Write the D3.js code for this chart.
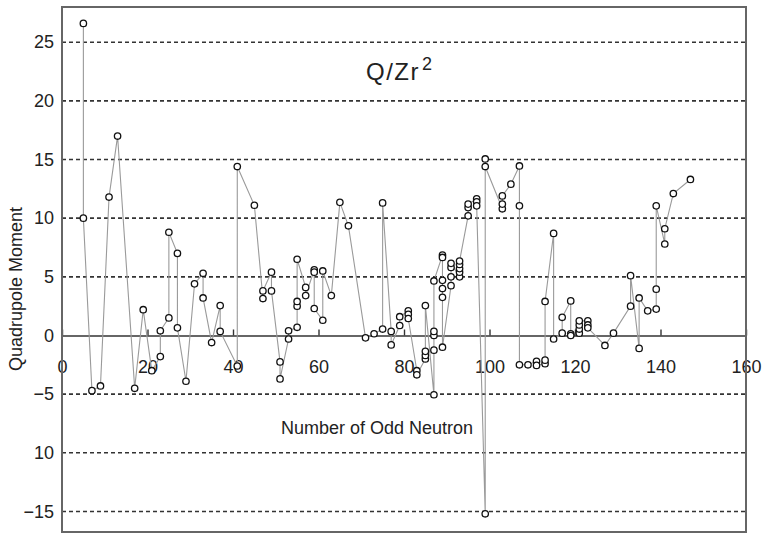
<!DOCTYPE html>
<html>
<head>
<meta charset="utf-8">
<script src="https://cdn.jsdelivr.net/npm/d3@7"></script>
<style>
  body { margin: 0; background: #fff; }
  svg text { font-family: "Liberation Sans", Arial, sans-serif; fill: #222; }
</style>
</head>
<body>
<div id="chart"></div>
<script>
// odd neutron number, in the order the points are joined
var neutrons = [
  5, 5, 7, 9, 11, 13, 17, 19, 21, 23, 23, 25, 25, 27, 27, 29, 31, 33, 33, 35, 37, 37,
  41, 41, 45, 47, 47, 49, 49, 51, 51, 53, 53, 55, 55, 55, 55, 57, 57, 59, 59, 59,
  61, 61, 63, 65, 67, 71, 73, 75, 75, 77, 77, 79, 79, 81, 81, 81, 83, 83,
  85, 85, 85, 85, 87, 87, 87, 87, 87, 89, 89, 89, 89, 89, 89, 91, 91, 91, 91,
  93, 93, 93, 93, 93, 95, 95, 95, 97, 97, 97, 99, 99, 99, 103, 103, 103, 105,
  107, 107, 107, 109, 111, 111, 113, 113, 113, 115, 115, 117, 117, 119, 119, 119,
  121, 121, 121, 121, 123, 123, 123, 127, 129, 133, 133, 135, 135, 137,
  139, 139, 139, 141, 141, 143, 147
];
// quadrupole moment Q/Zr^2
var moments = [
  26.6, 10.0, -4.7, -4.3, 11.8, 17.0, -4.5, 2.2, -3.0, -1.8, 0.4, 1.5, 8.8, 7.0, 0.65, -3.9, 4.4, 5.3, 3.2, -0.6, 2.55, 0.35,
  -2.6, 14.4, 11.1, 3.15, 3.8, 5.4, 3.8, -2.25, -3.7, -0.3, 0.4, 0.7, 2.5, 2.9, 6.5, 4.1, 3.4, 5.6, 5.4, 2.3,
  1.3, 5.5, 3.4, 11.35, 9.35, -0.2, 0.15, 0.55, 11.3, 0.35, -0.8, 0.85, 1.6, 2.1, 1.8, 1.45, -3.0, -3.35,
  -2.0, -1.7, -1.35, 2.55, -5.05, -1.25, 0.0, 0.35, 4.65, 6.85, 6.65, 4.7, 4.0, 3.25, -1.0, 4.25, 5.0, 5.8, 6.15,
  5.0, 5.4, 5.7, 6.05, 6.35, 10.2, 10.9, 11.2, 11.65, 11.4, 11.05, -15.2, 15.05, 14.4, 10.8, 11.2, 11.9, 12.9,
  14.45, 11.05, -2.5, -2.5, -2.2, -2.55, -2.4, -2.1, 2.9, 8.7, -0.3, 0.2, 1.55, 2.95, 0.15, 0.0,
  0.2, 0.55, 0.9, 1.25, 1.25, 0.9, 0.65, -0.85, 0.2, 2.5, 5.1, -1.1, 3.2, 2.1,
  2.25, 3.95, 11.05, 7.8, 9.1, 12.1, 13.3
];

var xTicks = [0, 20, 40, 60, 80, 100, 120, 140, 160];
var yTicks = [-15, -10, -5, 0, 5, 10, 15, 20, 25];
var yTickLabels = ["\u221215", "10", "\u22125", "0", "5", "10", "15", "20", "25"];

var W = 766, H = 533;
var plotLeft = 62, plotRight = 746, plotTop = 7, plotBottom = 532;

var svg = d3.select("#chart").append("svg")
  .attr("width", W)
  .attr("height", H);

var x = d3.scaleLinear().domain([0, 160]).range([plotLeft, plotRight]);
var y = d3.scaleLinear().domain([-16.75, 28]).range([plotBottom, plotTop]);

// dashed grid
svg.append("g")
  .selectAll("line")
  .data(yTicks.filter(d => d !== 0))
  .join("line")
  .attr("x1", plotLeft).attr("x2", plotRight)
  .attr("y1", d => y(d)).attr("y2", d => y(d))
  .attr("stroke", "#333")
  .attr("stroke-width", 1.6)
  .attr("stroke-dasharray", "4,3");

// y labels
var yAxis = svg.append("g")
  .attr("transform", "translate(" + plotLeft + ",0)")
  .call(d3.axisLeft(y).tickValues(yTicks).tickSize(0).tickPadding(8)
    .tickFormat((d, i) => yTickLabels[i]));
yAxis.select(".domain").remove();
yAxis.selectAll("text").style("font-size", "18px").style("font-family", null);

// zero line with x ticks pointing up
var xAxis = svg.append("g")
  .attr("transform", "translate(0," + y(0) + ")")
  .call(d3.axisBottom(x).tickValues(xTicks).tickSize(-6).tickPadding(25).tickSizeOuter(0));
xAxis.select(".domain").attr("stroke", "#333").attr("stroke-width", 1.6);
xAxis.selectAll(".tick line").attr("stroke", "#333").attr("stroke-width", 1.4);
xAxis.selectAll("text").style("font-size", "18px").style("font-family", null);

// frame
svg.append("rect")
  .attr("x", plotLeft).attr("y", plotTop)
  .attr("width", plotRight - plotLeft).attr("height", plotBottom - plotTop)
  .attr("fill", "none")
  .attr("stroke", "#666")
  .attr("stroke-width", 2);

var points = neutrons.map((n, i) => [n, moments[i]]);

svg.append("path")
  .datum(points)
  .attr("fill", "none")
  .attr("stroke", "#9a9a9a")
  .attr("stroke-width", 1.1)
  .attr("d", d3.line().x(d => x(d[0])).y(d => y(d[1])));

svg.append("g")
  .selectAll("circle")
  .data(points)
  .join("circle")
  .attr("cx", d => x(d[0]))
  .attr("cy", d => y(d[1]))
  .attr("r", 3.2)
  .attr("fill", "#fff")
  .attr("stroke", "#111")
  .attr("stroke-width", 1.3);

// titles
var qt = svg.append("text")
  .attr("x", 366).attr("y", 80)
  .style("font-size", "24px")
  .style("letter-spacing", "1.5px");
qt.append("tspan").text("Q/Zr");
qt.append("tspan").attr("dy", -10).attr("dx", 2).style("font-size", "18px").text("2");

svg.append("text")
  .attr("x", 377).attr("y", 434)
  .attr("text-anchor", "middle")
  .style("font-size", "18px")
  .text("Number of Odd Neutron");

svg.append("text")
  .attr("transform", "translate(22,289) rotate(-90)")
  .attr("text-anchor", "middle")
  .style("font-size", "18px")
  .text("Quadrupole Moment");
</script>
</body>
</html>
